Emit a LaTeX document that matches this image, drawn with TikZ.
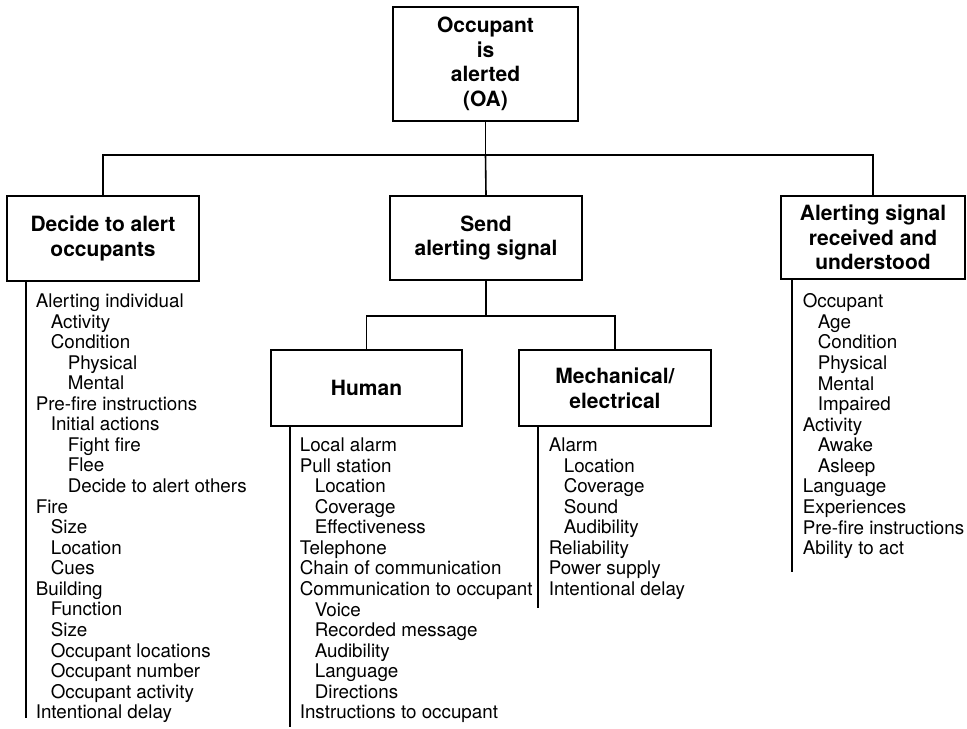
\documentclass[tikz,border=0pt]{standalone}
\usepackage{fontspec}
\setmainfont{TeX Gyre Heros}
\usetikzlibrary{positioning}
\newcommand{\indA}{\hspace*{7.5pt}}
\newcommand{\indB}{\hspace*{16pt}}

\begin{document}
\begin{tikzpicture}[x=0.5pt,y=-0.5pt,line width=0.8pt]
    \tikzset{box/.style={draw,rectangle,align=center,inner sep=0pt,font=\fontsize{10.5}{12.3}\selectfont\bfseries},
      factors/.style={anchor=north west,align=left,inner sep=0pt,font=\fontsize{9.4}{10.28}\selectfont}}
    \useasboundingbox (0,0) rectangle (967,728);

    \node[box,minimum width=92.5pt,minimum height=57pt] (oa) at (485.5,64) {Occupant\\is\\alerted\\(OA)};
    \node[box,minimum width=96pt,minimum height=42.5pt] (decide) at (103,238.5) {Decide to alert\\occupants};
    \node[box,minimum width=96pt,minimum height=42pt] (send) at (486,238) {Send\\alerting signal};
    \node[box,minimum width=92pt,minimum height=41.5pt] (recv) at (873,237.5) {Alerting signal\\received and\\understood};
    \node[box,minimum width=95.5pt,minimum height=38pt] (human) at (366.5,388) {Human};
    \node[box,minimum width=96pt,minimum height=38pt] (mech) at (615,388) {Mechanical/\\electrical};

    \coordinate (topbus) at (485.5,155);
    \coordinate (sendbus) at (486,316);
    \draw (oa.south) -- (topbus);
    \draw (decide.north) |- (topbus) -| (recv.north);
    \draw (topbus) -- (send.north);
    \draw (send.south) -- (sendbus);
    \draw (human.north) |- (sendbus) -| (mech.north);

    \coordinate (decideEnd) at (26,718);
    \coordinate (humanEnd) at (290,727);
    \coordinate (mechEnd) at (538,608);
    \coordinate (recvEnd) at (792,572);
    \draw (decide.south -| decideEnd) -- (decideEnd);
    \draw (human.south -| humanEnd) -- (humanEnd);
    \draw (mech.south -| mechEnd) -- (mechEnd);
    \draw (recv.south -| recvEnd) -- (recvEnd);

    \node[factors] (decideList) at (35,293) {Alerting individual\\
      \indA Activity\\
      \indA Condition\\
      \indB Physical\\
      \indB Mental\\
      Pre-fire instructions\\
      \indA Initial actions\\
      \indB Fight fire\\
      \indB Flee\\
      \indB Decide to alert others\\
      Fire\\
      \indA Size\\
      \indA Location\\
      \indA Cues\\
      Building\\
      \indA Function\\
      \indA Size\\
      \indA Occupant locations\\
      \indA Occupant number\\
      \indA Occupant activity\\
      Intentional delay};
    \node[factors] (humanList) at (299,437) {Local alarm\\
      Pull station\\
      \indA Location\\
      \indA Coverage\\
      \indA Effectiveness\\
      Telephone\\
      Chain of communication\\
      Communication to occupant\\
      \indA Voice\\
      \indA Recorded message\\
      \indA Audibility\\
      \indA Language\\
      \indA Directions\\
      Instructions to occupant};
    \node[factors] (mechList) at (548,437) {Alarm\\
      \indA Location\\
      \indA Coverage\\
      \indA Sound\\
      \indA Audibility\\
      Reliability\\
      Power supply\\
      Intentional delay};
    \node[factors] (recvList) at (802,293) {Occupant\\
      \indA Age\\
      \indA Condition\\
      \indA Physical\\
      \indA Mental\\
      \indA Impaired\\
      Activity\\
      \indA Awake\\
      \indA Asleep\\
      Language\\
      Experiences\\
      Pre-fire instructions\\
      Ability to act};
\end{tikzpicture}
\end{document}
